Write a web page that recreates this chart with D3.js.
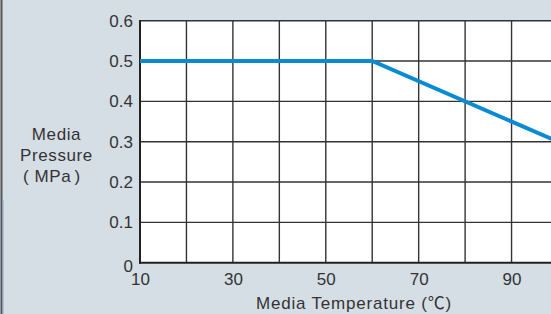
<!DOCTYPE html>
<html>
<head>
<meta charset="utf-8">
<script src="https://cdn.jsdelivr.net/npm/d3@7"></script>
<style>
  body { margin: 0; background: #d6dee5; }
  svg { display: block; }
  text { font-family: "Liberation Sans", Arial, "Noto Sans CJK JP", sans-serif; fill: #333; }
</style>
</head>
<body>
<div id="chart"></div>
<script>
// data
var temps = [10, 60, 100];
var pressures = [0.5, 0.5, 0.3];
var xTickLabels = [10, 30, 50, 70, 90];
var yTickLabels = [0, 0.1, 0.2, 0.3, 0.4, 0.5, 0.6];
var xGrid = [20, 30, 40, 50, 60, 70, 80, 90, 100];
var yGrid = [0.1, 0.2, 0.3, 0.4, 0.5, 0.6];

var width = 551, height = 314;
var svg = d3.select("#chart").append("svg")
    .attr("width", width)
    .attr("height", height);

var x = d3.scaleLinear().domain([10, 100]).range([140, 558]);
var y = d3.scaleLinear().domain([0, 0.6]).range([262.7, 20.7]);

// left frame line
svg.append("line")
    .attr("x1", 1.5).attr("x2", 1.5)
    .attr("y1", 0).attr("y2", height)
    .attr("stroke", "#555").attr("stroke-width", 2);
svg.append("line")
    .attr("x1", 3).attr("x2", 3)
    .attr("y1", 200).attr("y2", height)
    .attr("stroke", "#8aa6c4").attr("stroke-width", 1);

// plot area
svg.append("rect")
    .attr("x", x(10)).attr("y", y(0.6))
    .attr("width", x(100) - x(10))
    .attr("height", y(0) - y(0.6))
    .attr("fill", "#fff");

// grid
var grid = svg.append("g").attr("stroke", "#333").attr("stroke-width", 1.4);
grid.selectAll(".vg").data(xGrid).enter().append("line")
    .attr("x1", d => x(d)).attr("x2", d => x(d))
    .attr("y1", y(0)).attr("y2", y(0.6));
grid.selectAll(".hg").data(yGrid).enter().append("line")
    .attr("x1", x(10)).attr("x2", x(100))
    .attr("y1", d => y(d)).attr("y2", d => y(d));

// axes lines
svg.append("line")
    .attr("x1", x(10)).attr("x2", x(10))
    .attr("y1", y(0.6) - 0.7).attr("y2", y(0) + 1)
    .attr("stroke", "#222").attr("stroke-width", 2);
svg.append("line")
    .attr("x1", x(10) - 1).attr("x2", x(100))
    .attr("y1", y(0)).attr("y2", y(0))
    .attr("stroke", "#222").attr("stroke-width", 2);

// curve
svg.append("path")
    .datum(temps.map((t, i) => [t, pressures[i]]))
    .attr("fill", "none")
    .attr("stroke", "#0a8ad2")
    .attr("stroke-width", 4)
    .attr("d", d3.line().x(d => x(d[0])).y(d => y(d[1])));

// y tick labels
var yAxis = d3.axisLeft(y)
    .tickValues(yTickLabels)
    .tickSize(0)
    .tickPadding(7)
    .tickFormat(d => d === 0 ? "0" : d3.format(".1f")(d));
var yg = svg.append("g")
    .attr("transform", "translate(" + x(10) + ",0)")
    .call(yAxis);
yg.select(".domain").remove();
yg.selectAll("text")
    .attr("font-size", 17)
    .attr("fill", "#333")
    .style("font-family", "'Liberation Sans', Arial, sans-serif")
    .attr("dy", function(d) { return d === 0 ? "0.5em" : "0.32em"; });

// x tick labels
var xAxis = d3.axisBottom(x)
    .tickValues(xTickLabels)
    .tickSize(0)
    .tickPadding(10);
var xg = svg.append("g")
    .attr("transform", "translate(0," + y(0) + ")")
    .call(xAxis);
xg.select(".domain").remove();
xg.selectAll("text")
    .attr("font-size", 17)
    .attr("fill", "#333")
    .style("font-family", "'Liberation Sans', Arial, sans-serif");

// axis titles
svg.append("text")
    .attr("x", 354).attr("y", 309)
    .attr("text-anchor", "middle")
    .attr("font-size", 17)
    .attr("letter-spacing", 0.8)
    .text("Media Temperature (℃)");

var yTitle = ["Media", "Pressure"];
svg.append("g").selectAll("text").data(yTitle).enter().append("text")
    .attr("x", 56.5)
    .attr("y", (d, i) => 139.5 + i * 21.3)
    .attr("text-anchor", "middle")
    .attr("font-size", 17)
    .attr("letter-spacing", 0.6)
    .text(d => d);

// unit line, parens set apart like the full-width ones in the source
var unit = svg.append("g").attr("font-size", 17);
unit.append("text").attr("x", 23).attr("y", 182).text("(");
unit.append("text").attr("x", 34.5).attr("y", 182).attr("letter-spacing", 0.6).text("MPa");
unit.append("text").attr("x", 74.5).attr("y", 182).text(")");
</script>
</body>
</html>
